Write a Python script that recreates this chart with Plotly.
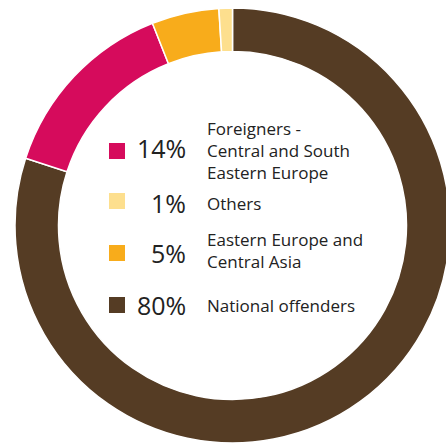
import plotly.graph_objects as go

# Data (clockwise from 12 o'clock)
categories = ["National offenders", "Foreigners - Central and South Eastern Europe",
              "Eastern Europe and Central Asia", "Others"]
shares = [80, 14, 5, 1]
colors = ["#553C24", "#D60B5C", "#F8AC1B", "#FDDF8E"]

# Legend (in the order shown in the centre)
legend_order = [1, 3, 2, 0]
legend_text = {
    0: "National offenders",
    1: "Foreigners -<br>Central and South<br>Eastern Europe",
    2: "Eastern Europe and<br>Central Asia",
    3: "Others",
}

# figure is slightly wider than the 446px window so the ring is cut at the right edge
W, H = 452, 446

def px(x):
    return x / W

def py(y):
    return 1 - y / H

fig = go.Figure(go.Pie(
    labels=categories, values=shares, sort=False, direction="clockwise",
    rotation=0, hole=0.80,
    marker=dict(colors=colors, line=dict(color="white", width=1.5)),
    textinfo="none", hoverinfo="label+percent", showlegend=False,
    domain=dict(x=[px(15), px(450)], y=[py(443), py(8)]),
))

# centre legend row positions (pixels)
square_y = {1: 151, 3: 201, 2: 253, 0: 305}
pct_y = {1: 148, 3: 202.5, 2: 253, 0: 304.5}
label_y = {1: 150, 3: 203, 2: 251, 0: 305.5}
font = "Open Sans, Noto Sans, sans-serif"
for idx in legend_order:
    cy = square_y[idx]
    fig.add_shape(type="rect", xref="paper", yref="paper",
                  x0=px(109), x1=px(125), y0=py(cy + 8), y1=py(cy - 8),
                  fillcolor=colors[idx], line=dict(width=0))
    fig.add_annotation(x=px(188), y=py(pct_y[idx]), xref="paper", yref="paper",
                       xanchor="right", yanchor="middle", showarrow=False,
                       text=f"{shares[idx]}%",
                       font=dict(family=font, size=25, color="#222222"))
    fig.add_annotation(x=px(205), y=py(label_y[idx]), xref="paper", yref="paper",
                       xanchor="left", yanchor="middle", showarrow=False, align="left",
                       text=legend_text[idx],
                       font=dict(family=font, size=17, color="#222222"))

fig.update_layout(width=W, height=H, margin=dict(l=0, r=0, t=0, b=0),
                  paper_bgcolor="white", plot_bgcolor="white")
fig.write_html(
    "out.html",
    config={"displayModeBar": False},
    post_script="document.body.style.margin='0';document.body.style.overflow='hidden';",
)
